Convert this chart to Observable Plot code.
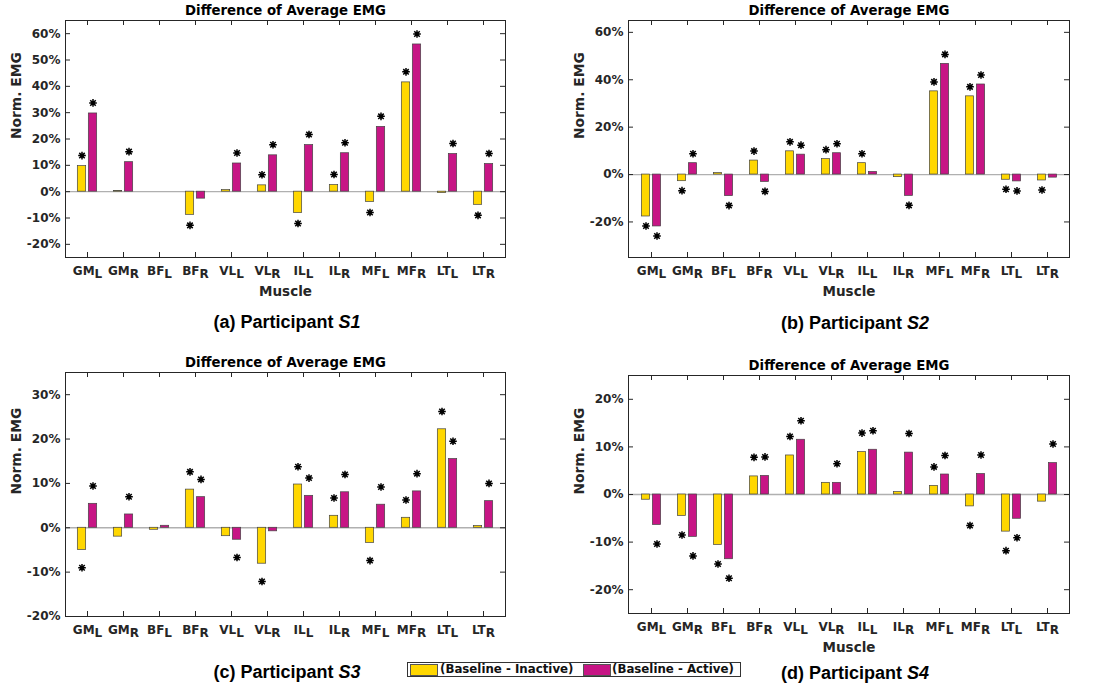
<!DOCTYPE html>
<html>
<head>
<meta charset="utf-8">
<script src="https://cdn.jsdelivr.net/npm/d3@7"></script>
<script src="https://cdn.jsdelivr.net/npm/@observablehq/plot@0.6"></script>
<style>
  body { margin: 0; background: #fff; }
  #root { position: relative; width: 1098px; height: 689px; overflow: hidden; background: #fff; font-family: "DejaVu Sans", sans-serif; }
  .panel { position: absolute; }
  .panel svg { max-width: none; display: block; }
  .caption { position: absolute; font-family: "Liberation Sans", Arial, sans-serif; font-weight: bold; font-size: 18px; color: #000; transform: translate(-50%, -50%); white-space: nowrap; }
  .legend { position: absolute; left: 407px; top: 662px; width: 334px; height: 15px; box-sizing: border-box; border: 1px solid #333; background: #fff; font-family: "DejaVu Sans", sans-serif; font-weight: bold; font-size: 11.8px; color: #111; }
  .legend .sw { position: absolute; top: 1px; width: 26px; height: 10px; border: 1px solid #555; }
  .legend .lb { position: absolute; top: -1px; line-height: 15px; white-space: nowrap; }
</style>
</head>
<body>
<div id="root"></div>
<script>
// ---------- data ----------
const muscles = ["GM_L","GM_R","BF_L","BF_R","VL_L","VL_R","IL_L","IL_R","MF_L","MF_R","LT_L","LT_R"];
const seriesNames = ["(Baseline - Inactive)", "(Baseline - Active)"];

// Participant S1 (percent)
const s1Inactive = [9.7, 0.3, 0, -8.8, 0.6, 2.4, -8.1, 2.5, -3.9, 41.5, -0.5, -5.0];
const s1Active   = [29.7, 11.2, 0, -2.65, 10.7, 13.8, 17.7, 14.6, 24.6, 55.9, 14.3, 10.5];
const s1SigInactive = [1,0,0,1,0,1,1,1,1,1,0,1];
const s1SigActive   = [1,1,0,0,1,1,1,1,1,1,1,1];
const s1Ticks = [-20,-10,0,10,20,30,40,50,60];

// Participant S2
const s2Inactive = [-17.7, -2.8, 0.6, 5.9, 9.8, 6.5, 4.8, -1.1, 35.1, 33.0, -2.2, -2.5];
const s2Active   = [-21.9, 4.8, -9.1, -3.1, 8.4, 9.0, 1.1, -9.0, 46.7, 38.0, -2.9, -1.3];
const s2SigInactive = [1,1,0,1,1,1,1,0,1,1,1,1];
const s2SigActive   = [1,1,1,1,1,1,0,1,1,1,1,0];
const s2Ticks = [-20,0,20,40,60];

// Participant S3
const s3Inactive = [-5.0, -2.0, -0.45, 8.6, -1.9, -8.1, 9.75, 2.7, -3.4, 2.25, 22.2, 0.4];
const s3Active   = [5.4, 3.0, 0.45, 6.9, -2.7, -0.8, 7.2, 8.0, 5.2, 8.2, 15.5, 6.0];
const s3SigInactive = [1,0,0,1,0,1,1,1,1,1,1,0];
const s3SigActive   = [1,1,0,1,1,0,1,1,1,1,1,1];
const s3Ticks = [-20,-10,0,10,20,30];

// Participant S4
const s4Inactive = [-1.1, -4.5, -10.6, 3.8, 8.2, 2.45, 8.9, 0.5, 1.8, -2.5, -7.8, -1.5];
const s4Active   = [-6.4, -8.9, -13.6, 3.9, 11.5, 2.45, 9.4, 8.8, 4.2, 4.3, -5.1, 6.6];
const s4SigInactive = [0,1,1,1,1,0,1,0,1,1,1,0];
const s4SigActive   = [1,1,1,1,1,1,1,1,1,1,1,1];
const s4Ticks = [-20,-10,0,10,20];

const chartTitle = "Difference of Average EMG";
const yLabel = "Norm. EMG";
const xLabel = "Muscle";

// ---------- styles ----------
const YELLOW = "#FFD700", MAGENTA = "#C71585";
const AX = "#262626";
const STAR_OFFSET = 4; // percent beyond bar end

const asterisk = {
  draw(ctx, size) {
    const r = Math.sqrt(size / Math.PI), d = r * 0.72;
    ctx.moveTo(-r, 0); ctx.lineTo(r, 0);
    ctx.moveTo(0, -r); ctx.lineTo(0, r);
    ctx.moveTo(-d, -d); ctx.lineTo(d, d);
    ctx.moveTo(-d, d); ctx.lineTo(d, -d);
  }
};

function makePanel(cfg) {
  const {inactive, active, sigI, sigA, domain, ticks, width, height, ml, mr, mt, mb, showXLabel} = cfg;
  const iw = width - ml - mr, ih = height - mt - mb;
  const bw = iw / muscles.length;
  const barW = 9, gap = 2;
  const off = (barW + gap) / 2;
  const inset = (bw - barW) / 2;
  const rows = muscles.map((m, i) => ({m, inactive: inactive[i], active: active[i], sigI: sigI[i], sigA: sigA[i]}));
  const starY = v => v >= 0 ? v + STAR_OFFSET : v - STAR_OFFSET;
  const starsI = rows.filter(r => r.sigI).map(r => ({m: r.m, y: starY(r.inactive)}));
  const starsA = rows.filter(r => r.sigA).map(r => ({m: r.m, y: starY(r.active)}));

  const marks = [
    Plot.ruleY([0], {stroke: "#b0b0b0", strokeWidth: 1.3}),
    Plot.barY(rows, {filter: d => d.inactive !== 0, x: "m", y: "inactive", fill: YELLOW, stroke: "#444", strokeWidth: 0.7, insetLeft: inset, insetRight: inset, dx: -off}),
    Plot.barY(rows, {filter: d => d.active !== 0, x: "m", y: "active", fill: MAGENTA, stroke: "#444", strokeWidth: 0.7, insetLeft: inset, insetRight: inset, dx: off}),
    Plot.tickY(ticks, {y: d => d, stroke: AX, insetRight: iw - 5}),
    Plot.tickY(ticks, {y: d => d, stroke: AX, insetLeft: iw - 5}),
    Plot.tickX(muscles, {x: d => d, stroke: AX, insetTop: ih - 5}),
    Plot.tickX(muscles, {x: d => d, stroke: AX, insetBottom: ih - 5}),
    Plot.frame({stroke: AX, strokeWidth: 1}),
    Plot.axisY(ticks, {tickSize: 0, tickPadding: 5, tickFormat: d => d + "%", fontSize: 12, fontWeight: "bold", fill: AX, label: null}),
    Plot.axisX({tickSize: 0, tickPadding: 8.5, tickFormat: d => d, fontSize: 12, fontWeight: "bold", fill: AX, label: null}),
    Plot.dot(starsI, {x: "m", y: "y", symbol: asterisk, r: 3.8, fill: "none", stroke: "#000", strokeWidth: 1.5, dx: -off}),
    Plot.dot(starsA, {x: "m", y: "y", symbol: asterisk, r: 3.8, fill: "none", stroke: "#000", strokeWidth: 1.5, dx: off}),
    Plot.text([chartTitle], {text: d => d, frameAnchor: "top", dy: -10, lineAnchor: "middle", fontSize: 13.3, fontWeight: "bold", fill: "#000"}),
    Plot.text([yLabel], {text: d => d, frameAnchor: "left", dx: -49, rotate: -90, lineAnchor: "middle", fontSize: 13.8, fontWeight: "bold", fill: AX})
  ];
  if (showXLabel) marks.push(Plot.text([xLabel], {text: d => d, frameAnchor: "bottom", dy: 34.5, lineAnchor: "middle", fontSize: 13.5, fontWeight: "bold", fill: AX}));

  const svg = Plot.plot({
    width, height,
    marginLeft: ml, marginRight: mr, marginTop: mt, marginBottom: mb,
    style: {fontFamily: "DejaVu Sans", fontSize: "12px", color: AX, background: "transparent", overflow: "visible"},
    x: {domain: muscles, padding: 0, axis: null},
    y: {domain, axis: null},
    marks
  });

  // subscripts on muscle tick labels
  d3.select(svg).selectAll('g[aria-label="x-axis tick label"] text').each(function () {
    const t = this.textContent;
    const [main, sub] = t.split("_");
    const sel = d3.select(this);
    sel.text(null);
    sel.append("tspan").text(main);
    if (sub) sel.append("tspan").attr("dy", "0.3em").text(sub);
  });

  const div = document.createElement("div");
  div.className = "panel";
  div.style.left = cfg.left + "px";
  div.style.top = cfg.top + "px";
  div.appendChild(svg);
  return div;
}

const root = document.getElementById("root");

const panels = [
  {inactive: s1Inactive, active: s1Active, sigI: s1SigInactive, sigA: s1SigActive, domain: [-25, 65], ticks: s1Ticks,
   left: 0, top: 0, width: 549, height: 305, ml: 65, mr: 44, mt: 20, mb: 48, showXLabel: true},
  {inactive: s2Inactive, active: s2Active, sigI: s2SigInactive, sigA: s2SigActive, domain: [-35, 65], ticks: s2Ticks,
   left: 549, top: 0, width: 549, height: 305, ml: 79, mr: 29, mt: 20, mb: 48, showXLabel: true},
  {inactive: s3Inactive, active: s3Active, sigI: s3SigInactive, sigA: s3SigActive, domain: [-20, 35], ticks: s3Ticks,
   left: 0, top: 340, width: 549, height: 305, ml: 65, mr: 44, mt: 32, mb: 29, showXLabel: false},
  {inactive: s4Inactive, active: s4Active, sigI: s4SigInactive, sigA: s4SigActive, domain: [-25, 25], ticks: s4Ticks,
   left: 549, top: 340, width: 549, height: 305, ml: 79, mr: 29, mt: 35, mb: 32, showXLabel: true}
];
panels.forEach(p => root.appendChild(makePanel(p)));

// captions
const captions = [
  {label: "(a) Participant ", who: "S1", x: 287, y: 322},
  {label: "(b) Participant ", who: "S2", x: 855, y: 322.5},
  {label: "(c) Participant ", who: "S3", x: 287, y: 672},
  {label: "(d) Participant ", who: "S4", x: 855, y: 672.5}
];
captions.forEach(c => {
  const d = document.createElement("div");
  d.className = "caption";
  d.style.left = c.x + "px";
  d.style.top = c.y + "px";
  d.appendChild(document.createTextNode(c.label));
  const i = document.createElement("i");
  i.textContent = c.who;
  d.appendChild(i);
  root.appendChild(d);
});

// legend
const legend = document.createElement("div");
legend.className = "legend";
const legendItems = [
  {name: seriesNames[0], color: YELLOW, sx: 2, tx: 32},
  {name: seriesNames[1], color: MAGENTA, sx: 175, tx: 204}
];
legendItems.forEach(it => {
  const sw = document.createElement("span");
  sw.className = "sw";
  sw.style.left = it.sx + "px";
  sw.style.background = it.color;
  legend.appendChild(sw);
  const lb = document.createElement("span");
  lb.className = "lb";
  lb.style.left = it.tx + "px";
  lb.textContent = it.name;
  legend.appendChild(lb);
});
root.appendChild(legend);
</script>
</body>
</html>
